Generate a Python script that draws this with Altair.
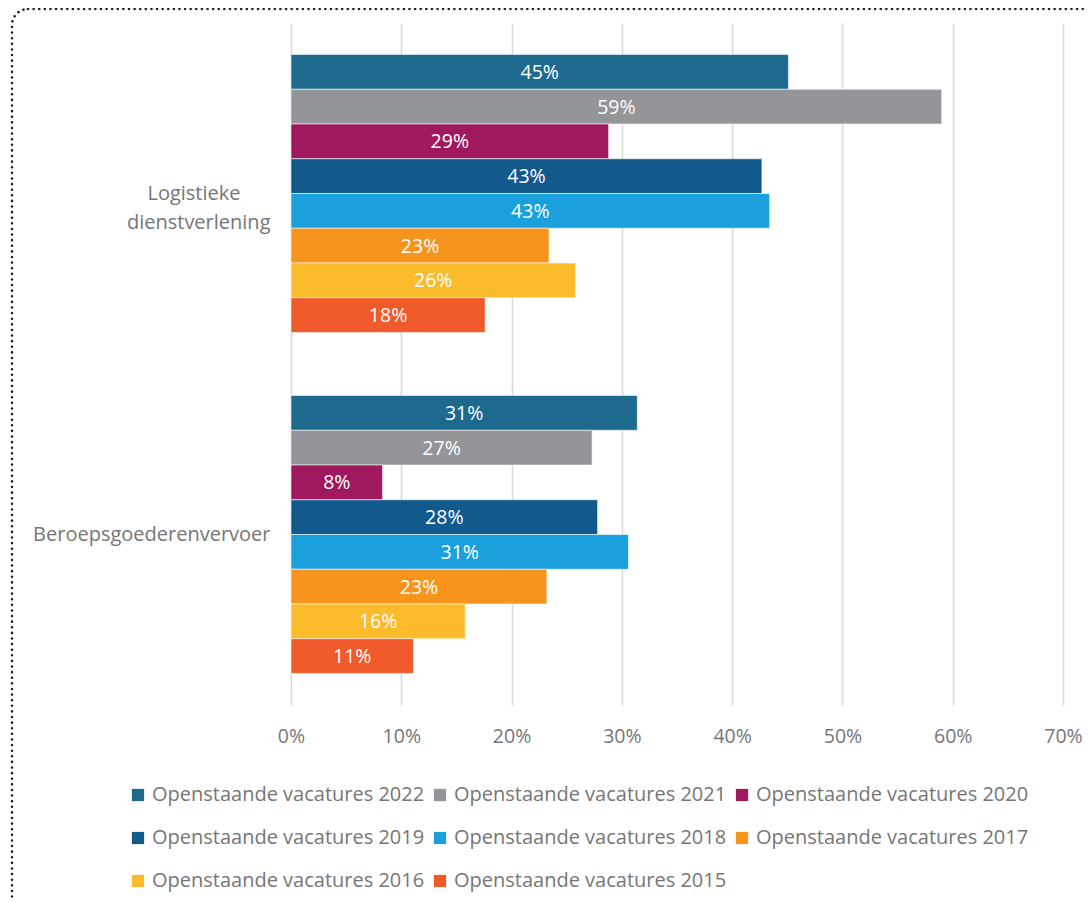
import altair as alt
import pandas as pd

categories = ["Logistieke dienstverlening", "Beroepsgoederenvervoer"]
series = [
    "Openstaande vacatures 2022",
    "Openstaande vacatures 2021",
    "Openstaande vacatures 2020",
    "Openstaande vacatures 2019",
    "Openstaande vacatures 2018",
    "Openstaande vacatures 2017",
    "Openstaande vacatures 2016",
    "Openstaande vacatures 2015",
]
colors = ["#1d6a8e", "#939598", "#a0195f", "#135a8c", "#1aa0dc", "#f7941d", "#fcbb2a", "#f15a2b"]
values_logistiek = [45.1, 59.0, 28.8, 42.7, 43.4, 23.4, 25.8, 17.6]
values_beroeps = [31.4, 27.3, 8.3, 27.8, 30.6, 23.2, 15.8, 11.1]
x_ticks = [0, 10, 20, 30, 40, 50, 60, 70]

rows = []
for cat, vals in zip(categories, [values_logistiek, values_beroeps]):
    for s, v in zip(series, vals):
        rows.append({"cat": cat, "series": s, "value": v})
df = pd.DataFrame(rows)

FONT = "Open Sans"
GRAY = "#767676"
PAD = "\u2800" * 2  # blank, non-trimmed padding so the first line sits centred

y_enc = alt.Y(
    "cat:N",
    sort=categories,
    title=None,
    scale=alt.Scale(paddingInner=0.185, paddingOuter=0.0925),
    axis=alt.Axis(
        domain=False,
        ticks=False,
        labelFont=FONT,
        labelFontSize=20,
        labelColor=GRAY,
        labelPadding=21,
        labelLineHeight=29,
        labelLimit=400,
        labelExpr="datum.value == 'Logistieke dienstverlening' ? ['Logistieke" + PAD + "', 'dienstverlening'] : datum.value",
    ),
)
yoff = alt.YOffset("series:N", sort=series, scale=alt.Scale(paddingInner=0, paddingOuter=0))

bars = alt.Chart(df).mark_bar(stroke="white", strokeWidth=0.8, strokeOpacity=0.7).encode(
    x=alt.X(
        "value:Q",
        title=None,
        scale=alt.Scale(domain=[0, 70], nice=False),
        axis=alt.Axis(
            values=x_ticks,
            labelExpr="datum.value + '%'",
            domain=False,
            ticks=False,
            grid=True,
            gridColor="#d9d9d9",
            gridWidth=1.6,
            labelFlush=False,
            labelFont=FONT,
            labelFontSize=19.5,
            labelColor=GRAY,
            labelPadding=22,
        ),
    ),
    y=y_enc,
    yOffset=yoff,
    color=alt.Color(
        "series:N",
        sort=series,
        scale=alt.Scale(domain=series, range=colors),
        title=None,
        legend=alt.Legend(
            orient="none",
            legendX=-163,
            legendY=762,
            direction="horizontal",
            columns=3,
            symbolType="square",
            symbolSize=150,
            symbolStrokeWidth=0,
            labelFont=FONT,
            labelFontSize=20,
            labelColor=GRAY,
            labelOffset=4,
            labelLimit=400,
            columnPadding=5,
            rowPadding=23,
        ),
    ),
)

labels = alt.Chart(df).transform_calculate(
    mid="datum.value / 2", lab="round(datum.value) + '%'"
).mark_text(font=FONT, fontSize=19.5, color="white", baseline="middle", align="center", dy=1).encode(
    x="mid:Q",
    y=alt.Y("cat:N", sort=categories),
    yOffset=yoff,
    text="lab:N",
)

border = alt.Chart(pd.DataFrame({"a": [0]})).mark_rect(
    fill=None,
    stroke="#222222",
    strokeWidth=2.6,
    strokeDash=[0.01, 5.6],
    strokeCap="round",
    cornerRadius=16,
).encode(
    x=alt.value(-279),
    x2=alt.value(900),
    y=alt.value(-14),
    y2=alt.value(1000),
)

chart = alt.layer(bars, labels, border).properties(
    width=772,
    height=682,
    autosize=alt.AutoSizeParams(type="none"),
    padding={"left": 283, "top": 15, "right": 21, "bottom": 196},
).configure_view(stroke=None)

chart.save("out.html", embed_options={"renderer": "svg", "actions": False})
